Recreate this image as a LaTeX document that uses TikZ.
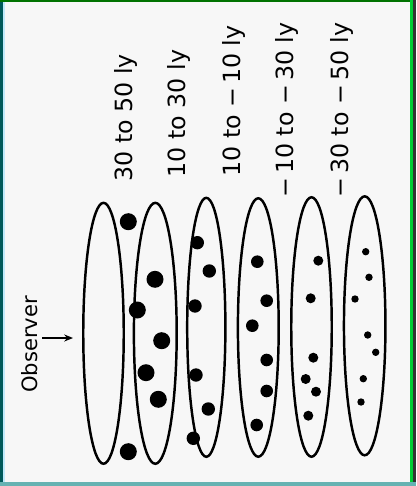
\documentclass[tikz,border=0pt]{standalone}
\usepackage{fontspec}
\setmainfont{DejaVu Sans}
\usetikzlibrary{arrows.meta,shapes.geometric}

\begin{document}
\begin{tikzpicture}[
  x=0.02cm, y=-0.02cm, >=Stealth,
  shell/.style 2 args={draw, ellipse, line width=1.4pt, inner sep=0pt, outer sep=0pt,
    minimum width=#1, minimum height=#2},
  dist/.style={rotate=90, anchor=base west, inner sep=0pt, font=\fontsize{13.5}{16}\selectfont},
  obsarr/.style={->, line width=0.9pt, >={Stealth[length=5pt,width=4pt]}},
]
% page: 416 x 486 px, 1 px = 0.02 cm, y runs downwards
\useasboundingbox (0,0) rectangle (416,486);
\fill[black!3] (0,0) rectangle (416,486);
% scanned edges
\fill[teal!70!black] (0,0) rectangle (3,486);
\fill[cyan!25] (3,0) rectangle (5,486);
\fill[green!45!black] (0,0) rectangle (416,2);
\fill[green!60!teal] (410,0) rectangle (413,486);
\fill[black!80] (413,0) rectangle (416,486);
\fill[teal!60] (0,482) rectangle (416,486);

% shells, near to far
\node[shell={0.81cm}{5.22cm}]  (shell1) at (103.5,333.3) {};
\node[shell={0.856cm}{5.22cm}] (shell2) at (155.3,333.3) {};
\node[shell={0.764cm}{5.18cm}] (shell3) at (206.3,327.3) {};
\node[shell={0.816cm}{5.17cm}] (shell4) at (258.3,327.5) {};
\node[shell={0.81cm}{5.19cm}]  (shell5) at (311.5,327) {};
\node[shell={0.83cm}{5.18cm}]  (shell6) at (364.7,325.8) {};

% stars, smaller the farther away
\foreach \sx/\sy in {128.3/221.7, 155/279.3, 137.3/310, 161.7/340.7, 146/372.7, 158.3/399.3, 128.3/451.7}
  \fill (\sx,\sy) circle (0.17cm);
\foreach \sx/\sy in {197.3/242.7, 209.3/271, 195/306, 196/375, 208.3/409, 193.3/438.3}
  \fill (\sx,\sy) circle (0.134cm);
\foreach \sx/\sy in {257.3/261.7, 266.7/300.7, 252.3/325.7, 266.7/360, 266.7/391, 256.7/425}
  \fill (\sx,\sy) circle (0.126cm);
\foreach \sx/\sy in {318.3/260.7, 310.7/298.3, 313.3/357.7, 305.7/379, 316/391.7, 308.3/415.7}
  \fill (\sx,\sy) circle (0.1cm);
\foreach \sx/\sy in {365.7/251.7, 369/277.3, 355/299, 367.7/335, 375.7/352.3, 363.3/378.7, 361/402}
  \fill (\sx,\sy) circle (0.074cm);

% distance labels
\node[dist] (lab1) at (132,182) {30 to 50 ly};
\node[dist] (lab2) at (185,177.5) {10 to 30 ly};
\node[dist] (lab3) at (240,177) {10 to −\thinspace10 ly};
\node[dist] (lab4) at (293,198) {−\thinspace10 to −\thinspace30 ly};
\node[dist] (lab5) at (348,198) {−\thinspace30 to −\thinspace50 ly};

% observer
\node[dist, font=\fontsize{12}{14}\selectfont] (obs) at (37,393) {Observer};
\coordinate (eye) at (42,338);
\coordinate (look) at (73,338);
\draw[obsarr] (eye) -- (look);
\end{tikzpicture}
\end{document}
